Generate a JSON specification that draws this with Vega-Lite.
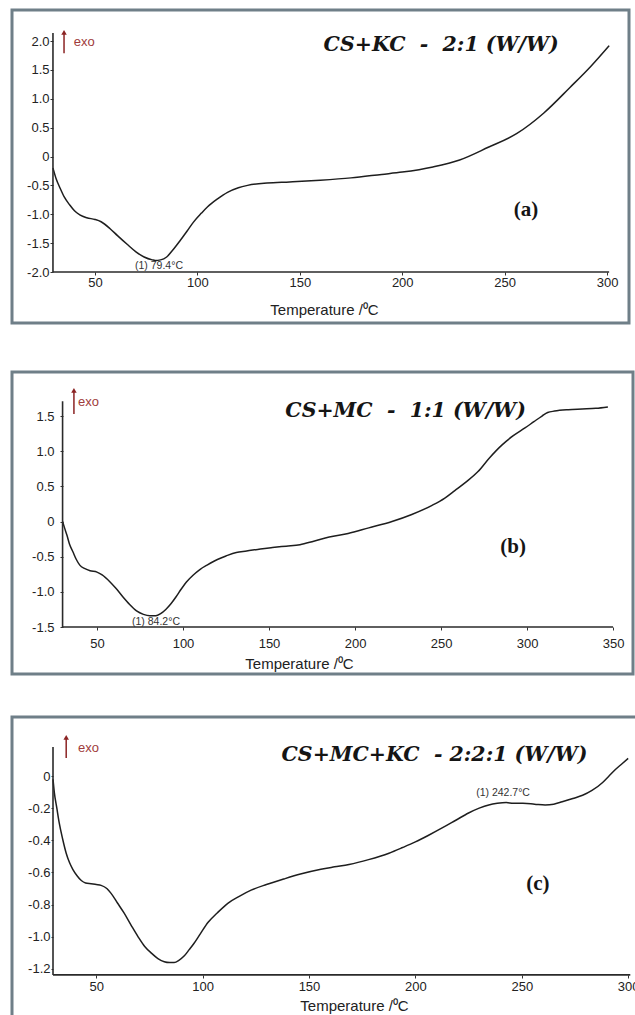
{
  "$schema": "https://vega.github.io/schema/vega-lite/v6.json",
  "padding": {"left": 10, "top": 8, "right": 0, "bottom": 0},
  "background": "white",
  "config": {
    "view": {"stroke": "#6f7f88", "strokeWidth": 3},
    "axis": {"grid": false, "domain": false, "labelFont": "Liberation Sans", "labelFontSize": 13, "labelColor": "#222", "tickColor": "#333", "tickSize": 3, "tickCount": 20, "titleFont": "Liberation Sans", "titleFontSize": 15, "titleFontWeight": "normal", "titleColor": "#222", "labelOverlap": false, "labelFlush": false, "labelBound": false}
  },
  "datasets": {
    "one": [{}],
    "a": [
      {"T": 29.5, "v": -0.2}, {"T": 31, "v": -0.38}, {"T": 33, "v": -0.55}, {"T": 35, "v": -0.7}, {"T": 37.7, "v": -0.84}, {"T": 40, "v": -0.94}, {"T": 42.6, "v": -1.01}, {"T": 46, "v": -1.06}, {"T": 50, "v": -1.09}, {"T": 53, "v": -1.13}, {"T": 57.4, "v": -1.25}, {"T": 61, "v": -1.37}, {"T": 65.7, "v": -1.52}, {"T": 70, "v": -1.65}, {"T": 74, "v": -1.74}, {"T": 78, "v": -1.79}, {"T": 79.4, "v": -1.8}, {"T": 82, "v": -1.79}, {"T": 85, "v": -1.74}, {"T": 88, "v": -1.62}, {"T": 91.7, "v": -1.45}, {"T": 95, "v": -1.29}, {"T": 98, "v": -1.14}, {"T": 102, "v": -0.98}, {"T": 105, "v": -0.87}, {"T": 110, "v": -0.73}, {"T": 114.7, "v": -0.62}, {"T": 120, "v": -0.54}, {"T": 124.5, "v": -0.5}, {"T": 134, "v": -0.46}, {"T": 145, "v": -0.44}, {"T": 160, "v": -0.41}, {"T": 175, "v": -0.37}, {"T": 190, "v": -0.31}, {"T": 200, "v": -0.27}, {"T": 215, "v": -0.18}, {"T": 228, "v": -0.06}, {"T": 242, "v": 0.16}, {"T": 256, "v": 0.4}, {"T": 269, "v": 0.75}, {"T": 282, "v": 1.2}, {"T": 292, "v": 1.56}, {"T": 301, "v": 1.92}
    ],
    "b": [
      {"T": 30, "v": 0.0}, {"T": 31, "v": -0.08}, {"T": 32.6, "v": -0.2}, {"T": 34, "v": -0.32}, {"T": 36, "v": -0.43}, {"T": 38, "v": -0.54}, {"T": 40, "v": -0.62}, {"T": 43, "v": -0.67}, {"T": 46, "v": -0.7}, {"T": 50, "v": -0.72}, {"T": 53, "v": -0.76}, {"T": 57.6, "v": -0.86}, {"T": 61, "v": -0.95}, {"T": 65, "v": -1.07}, {"T": 69, "v": -1.18}, {"T": 73, "v": -1.27}, {"T": 77, "v": -1.32}, {"T": 80.8, "v": -1.34}, {"T": 84.2, "v": -1.34}, {"T": 87, "v": -1.31}, {"T": 90, "v": -1.25}, {"T": 93, "v": -1.17}, {"T": 96, "v": -1.07}, {"T": 99, "v": -0.96}, {"T": 102, "v": -0.86}, {"T": 106, "v": -0.76}, {"T": 110, "v": -0.68}, {"T": 114, "v": -0.62}, {"T": 120, "v": -0.54}, {"T": 125, "v": -0.49}, {"T": 131, "v": -0.44}, {"T": 137, "v": -0.42}, {"T": 145, "v": -0.39}, {"T": 152, "v": -0.37}, {"T": 160, "v": -0.35}, {"T": 168, "v": -0.33}, {"T": 176, "v": -0.28}, {"T": 185, "v": -0.22}, {"T": 196, "v": -0.17}, {"T": 208, "v": -0.09}, {"T": 221.5, "v": 0.0}, {"T": 233, "v": 0.1}, {"T": 244.8, "v": 0.23}, {"T": 252, "v": 0.33}, {"T": 258, "v": 0.44}, {"T": 265, "v": 0.57}, {"T": 271.5, "v": 0.71}, {"T": 278, "v": 0.9}, {"T": 285.5, "v": 1.09}, {"T": 292, "v": 1.22}, {"T": 298.8, "v": 1.33}, {"T": 304, "v": 1.42}, {"T": 308.7, "v": 1.5}, {"T": 312, "v": 1.55}, {"T": 316, "v": 1.57}, {"T": 324, "v": 1.59}, {"T": 332, "v": 1.6}, {"T": 340, "v": 1.61}, {"T": 347, "v": 1.63}
    ],
    "c": [
      {"T": 29.7, "v": -0.02}, {"T": 30.3, "v": -0.1}, {"T": 31.5, "v": -0.2}, {"T": 32.6, "v": -0.29}, {"T": 34.2, "v": -0.39}, {"T": 35.9, "v": -0.48}, {"T": 37.5, "v": -0.54}, {"T": 39, "v": -0.58}, {"T": 41, "v": -0.62}, {"T": 43, "v": -0.65}, {"T": 45, "v": -0.665}, {"T": 47.6, "v": -0.67}, {"T": 50, "v": -0.675}, {"T": 52.3, "v": -0.68}, {"T": 55, "v": -0.7}, {"T": 57, "v": -0.73}, {"T": 60, "v": -0.79}, {"T": 63, "v": -0.85}, {"T": 66.5, "v": -0.93}, {"T": 69.7, "v": -1.0}, {"T": 72.8, "v": -1.06}, {"T": 75.8, "v": -1.1}, {"T": 79, "v": -1.135}, {"T": 82, "v": -1.155}, {"T": 84.5, "v": -1.16}, {"T": 86.6, "v": -1.16}, {"T": 89, "v": -1.145}, {"T": 91.3, "v": -1.12}, {"T": 93.7, "v": -1.08}, {"T": 96, "v": -1.04}, {"T": 99, "v": -0.98}, {"T": 102.6, "v": -0.91}, {"T": 107, "v": -0.85}, {"T": 112, "v": -0.79}, {"T": 117, "v": -0.75}, {"T": 122.8, "v": -0.71}, {"T": 130, "v": -0.675}, {"T": 138.3, "v": -0.64}, {"T": 146, "v": -0.61}, {"T": 155.6, "v": -0.58}, {"T": 162, "v": -0.565}, {"T": 168.8, "v": -0.55}, {"T": 178, "v": -0.52}, {"T": 187.6, "v": -0.48}, {"T": 194, "v": -0.445}, {"T": 200, "v": -0.41}, {"T": 206, "v": -0.37}, {"T": 213, "v": -0.32}, {"T": 219, "v": -0.275}, {"T": 225, "v": -0.23}, {"T": 230, "v": -0.2}, {"T": 234.5, "v": -0.18}, {"T": 238.5, "v": -0.17}, {"T": 242.7, "v": -0.165}, {"T": 246, "v": -0.17}, {"T": 250.5, "v": -0.17}, {"T": 256, "v": -0.175}, {"T": 261, "v": -0.18}, {"T": 265, "v": -0.175}, {"T": 269, "v": -0.16}, {"T": 274, "v": -0.14}, {"T": 278.6, "v": -0.12}, {"T": 283, "v": -0.09}, {"T": 288, "v": -0.04}, {"T": 291, "v": 0.0}, {"T": 294, "v": 0.04}, {"T": 297, "v": 0.075}, {"T": 300, "v": 0.11}
    ]
  },
  "spacing": 39,
  "vconcat": [
    {
      "spacing": 45,
      "vconcat": [
        {
          "width": 617,
          "height": 313,
          "layer": [
            {
              "data": {"name": "a"},
              "mark": {"type": "line", "color": "#1e1e1e", "strokeWidth": 1.5, "interpolate": "monotone"},
              "encoding": {
                "x": {"field": "T", "type": "quantitative", "scale": {"domain": [9.5, 310.7], "nice": false, "zero": false},
                  "axis": {"values": [50, 100, 150, 200, 250, 300], "tickCount": 20, "labelOverlap": false, "offset": -51, "labelPadding": 1, "title": "Temperature /\u2070C", "titleX": 312, "titleY": 37, "titleBaseline": "middle", "titleAlign": "center"}},
                "y": {"field": "v", "type": "quantitative", "scale": {"domain": [-2.883, 2.537], "nice": false, "zero": false},
                  "axis": {"values": [-2, -1.5, -1, -0.5, 0, 0.5, 1, 1.5, 2], "tickCount": 20, "labelOverlap": false, "offset": -41, "labelPadding": 1, "title": null, "labelExpr": "datum.value == 0 ? '0' : replace(format(datum.value, '.1f'), '\u2212', '-')"}}
              }
            },
            {
              "data": {"name": "one"},
              "mark": {"type": "rule", "color": "#2a2a2a", "strokeWidth": 1.6},
              "encoding": {"x": {"datum": 29.5, "type": "quantitative"}, "x2": {"datum": 301}, "y": {"datum": -2, "type": "quantitative"}}
            },
            {
              "data": {"name": "one"},
              "mark": {"type": "rule", "color": "#2a2a2a", "strokeWidth": 1.6},
              "encoding": {"x": {"datum": 29.5, "type": "quantitative"}, "y": {"datum": -2, "type": "quantitative"}, "y2": {"datum": 2.14}}
            },
            {
              "data": {"name": "one"},
              "mark": {"type": "text", "text": "CS+KC\u00a0\u00a0-\u00a0\u00a02:1 (W/W)", "font": "DejaVu Serif", "fontSize": 20.5, "fontWeight": "bold", "fontStyle": "italic", "align": "center", "baseline": "middle", "color": "#151515"},
              "encoding": {"x": {"datum": 219, "type": "quantitative"}, "y": {"datum": 1.93, "type": "quantitative"}}
            },
            {
              "data": {"name": "one"},
              "mark": {"type": "text", "text": "(a)", "font": "Liberation Serif", "fontSize": 21, "fontWeight": "bold", "align": "center", "baseline": "middle", "color": "#151515"},
              "encoding": {"x": {"datum": 260.4, "type": "quantitative"}, "y": {"datum": -0.926, "type": "quantitative"}}
            },
            {
              "data": {"name": "one"},
              "mark": {"type": "rule", "color": "#8b2323", "strokeWidth": 1.5},
              "encoding": {"x": {"datum": 34.9, "type": "quantitative"}, "y": {"datum": 1.79, "type": "quantitative"}, "y2": {"datum": 2.12}}
            },
            {
              "data": {"name": "one"},
              "mark": {"type": "point", "shape": "triangle-up", "filled": true, "size": 30, "color": "#8b2323", "opacity": 1},
              "encoding": {"x": {"datum": 34.9, "type": "quantitative"}, "y": {"datum": 2.15, "type": "quantitative"}}
            },
            {
              "data": {"name": "one"},
              "mark": {"type": "text", "text": "exo", "font": "Liberation Sans", "fontSize": 13, "align": "left", "baseline": "middle", "color": "#a03c3c"},
              "encoding": {"x": {"datum": 39.7, "type": "quantitative"}, "y": {"datum": 1.983, "type": "quantitative"}}
            },
            {
              "data": {"name": "one"},
              "mark": {"type": "text", "text": "(1) 79.4\u00b0C", "font": "Liberation Sans", "fontSize": 10.5, "align": "center", "baseline": "middle", "color": "#333"},
              "encoding": {"x": {"datum": 81.25, "type": "quantitative"}, "y": {"datum": -1.896, "type": "quantitative"}}
            }
          ]
        },
        {
          "width": 621,
          "height": 302,
          "layer": [
            {
              "data": {"name": "b"},
              "mark": {"type": "line", "color": "#1e1e1e", "strokeWidth": 1.5, "interpolate": "monotone"},
              "encoding": {
                "x": {"field": "T", "type": "quantitative", "scale": {"domain": [0.6, 361.6], "nice": false, "zero": false},
                  "axis": {"values": [50, 100, 150, 200, 250, 300, 350], "tickCount": 20, "labelOverlap": false, "offset": -47, "labelPadding": 7, "title": "Temperature /\u2070C", "titleX": 287, "titleY": 36, "titleBaseline": "middle", "titleAlign": "center"}},
                "y": {"field": "v", "type": "quantitative", "scale": {"domain": [-2.168, 2.126], "nice": false, "zero": false},
                  "axis": {"values": [-1.5, -1, -0.5, 0, 0.5, 1, 1.5], "tickCount": 20, "labelOverlap": false, "offset": -51, "labelPadding": 6, "title": null, "labelExpr": "datum.value == 0 ? '0' : replace(format(datum.value, '.1f'), '\u2212', '-')"}}
              }
            },
            {
              "data": {"name": "one"},
              "mark": {"type": "rule", "color": "#2a2a2a", "strokeWidth": 1.6},
              "encoding": {"x": {"datum": 30, "type": "quantitative"}, "x2": {"datum": 350}, "y": {"datum": -1.5, "type": "quantitative"}}
            },
            {
              "data": {"name": "one"},
              "mark": {"type": "rule", "color": "#2a2a2a", "strokeWidth": 1.6},
              "encoding": {"x": {"datum": 30, "type": "quantitative"}, "y": {"datum": -1.5, "type": "quantitative"}, "y2": {"datum": 1.71}}
            },
            {
              "data": {"name": "one"},
              "mark": {"type": "text", "text": "CS+MC\u00a0\u00a0-\u00a0\u00a01:1 (W/W)", "font": "DejaVu Serif", "fontSize": 20.5, "fontWeight": "bold", "fontStyle": "italic", "align": "center", "baseline": "middle", "color": "#151515"},
              "encoding": {"x": {"datum": 229.4, "type": "quantitative"}, "y": {"datum": 1.571, "type": "quantitative"}}
            },
            {
              "data": {"name": "one"},
              "mark": {"type": "text", "text": "(b)", "font": "Liberation Serif", "fontSize": 21, "fontWeight": "bold", "align": "center", "baseline": "middle", "color": "#151515"},
              "encoding": {"x": {"datum": 291.9, "type": "quantitative"}, "y": {"datum": -0.362, "type": "quantitative"}}
            },
            {
              "data": {"name": "one"},
              "mark": {"type": "rule", "color": "#8b2323", "strokeWidth": 1.5},
              "encoding": {"x": {"datum": 36.6, "type": "quantitative"}, "y": {"datum": 1.529, "type": "quantitative"}, "y2": {"datum": 1.85}}
            },
            {
              "data": {"name": "one"},
              "mark": {"type": "point", "shape": "triangle-up", "filled": true, "size": 30, "color": "#8b2323", "opacity": 1},
              "encoding": {"x": {"datum": 36.6, "type": "quantitative"}, "y": {"datum": 1.865, "type": "quantitative"}}
            },
            {
              "data": {"name": "one"},
              "mark": {"type": "text", "text": "exo", "font": "Liberation Sans", "fontSize": 13, "align": "left", "baseline": "middle", "color": "#a03c3c"},
              "encoding": {"x": {"datum": 39, "type": "quantitative"}, "y": {"datum": 1.7, "type": "quantitative"}}
            },
            {
              "data": {"name": "one"},
              "mark": {"type": "text", "text": "(1) 84.2\u00b0C", "font": "Liberation Sans", "fontSize": 10.5, "align": "center", "baseline": "middle", "color": "#333"},
              "encoding": {"x": {"datum": 84.3, "type": "quantitative"}, "y": {"datum": -1.429, "type": "quantitative"}}
            }
          ]
        }
      ]
    },
    {
      "width": 640,
      "height": 310,
      "layer": [
        {
          "data": {"name": "c"},
          "mark": {"type": "line", "color": "#1e1e1e", "strokeWidth": 1.5, "interpolate": "monotone"},
          "encoding": {
            "x": {"field": "T", "type": "quantitative", "scale": {"domain": [10.43, 311.2], "nice": false, "zero": false},
              "axis": {"values": [50, 100, 150, 200, 250, 300], "tickCount": 20, "labelOverlap": false, "offset": -52, "labelPadding": 2, "title": "Temperature /\u2070C", "titleX": 342, "titleY": 30, "titleBaseline": "middle", "titleAlign": "center"}},
            "y": {"field": "v", "type": "quantitative", "scale": {"domain": [-1.561, 0.367], "nice": false, "zero": false},
              "axis": {"values": [-1.2, -1, -0.8, -0.6, -0.4, -0.2, 0], "tickCount": 20, "labelOverlap": false, "offset": -41, "tickSize": 2, "labelPadding": 1, "title": null, "labelExpr": "datum.value == 0 ? '0' : replace(format(datum.value, '.1f'), '\u2212', '-')"}}
          }
        },
        {
          "data": {"name": "one"},
          "mark": {"type": "rule", "color": "#2a2a2a", "strokeWidth": 1.6},
          "encoding": {"x": {"datum": 29.7, "type": "quantitative"}, "x2": {"datum": 301}, "y": {"datum": -1.237, "type": "quantitative"}}
        },
        {
          "data": {"name": "one"},
          "mark": {"type": "rule", "color": "#2a2a2a", "strokeWidth": 1.6},
          "encoding": {"x": {"datum": 29.7, "type": "quantitative"}, "y": {"datum": -1.237, "type": "quantitative"}, "y2": {"datum": 0.18}}
        },
        {
          "data": {"name": "one"},
          "mark": {"type": "text", "text": "CS+MC+KC\u00a0\u00a0- 2:2:1 (W/W)", "font": "DejaVu Serif", "fontSize": 20.5, "fontWeight": "bold", "fontStyle": "italic", "align": "center", "baseline": "middle", "color": "#151515"},
          "encoding": {"x": {"datum": 209, "type": "quantitative"}, "y": {"datum": 0.131, "type": "quantitative"}}
        },
        {
          "data": {"name": "one"},
          "mark": {"type": "text", "text": "(c)", "font": "Liberation Serif", "fontSize": 21, "fontWeight": "bold", "align": "center", "baseline": "middle", "color": "#151515"},
          "encoding": {"x": {"datum": 257.6, "type": "quantitative"}, "y": {"datum": -0.672, "type": "quantitative"}}
        },
        {
          "data": {"name": "one"},
          "mark": {"type": "rule", "color": "#8b2323", "strokeWidth": 1.5},
          "encoding": {"x": {"datum": 35.9, "type": "quantitative"}, "y": {"datum": 0.112, "type": "quantitative"}, "y2": {"datum": 0.235}}
        },
        {
          "data": {"name": "one"},
          "mark": {"type": "point", "shape": "triangle-up", "filled": true, "size": 30, "color": "#8b2323", "opacity": 1},
          "encoding": {"x": {"datum": 35.9, "type": "quantitative"}, "y": {"datum": 0.24, "type": "quantitative"}}
        },
        {
          "data": {"name": "one"},
          "mark": {"type": "text", "text": "exo", "font": "Liberation Sans", "fontSize": 13, "align": "left", "baseline": "middle", "color": "#a03c3c"},
          "encoding": {"x": {"datum": 41.4, "type": "quantitative"}, "y": {"datum": 0.174, "type": "quantitative"}}
        },
        {
          "data": {"name": "one"},
          "mark": {"type": "text", "text": "(1) 242.7\u00b0C", "font": "Liberation Sans", "fontSize": 10.5, "align": "center", "baseline": "middle", "color": "#333"},
          "encoding": {"x": {"datum": 241.2, "type": "quantitative"}, "y": {"datum": -0.106, "type": "quantitative"}}
        }
      ]
    }
  ]
}
